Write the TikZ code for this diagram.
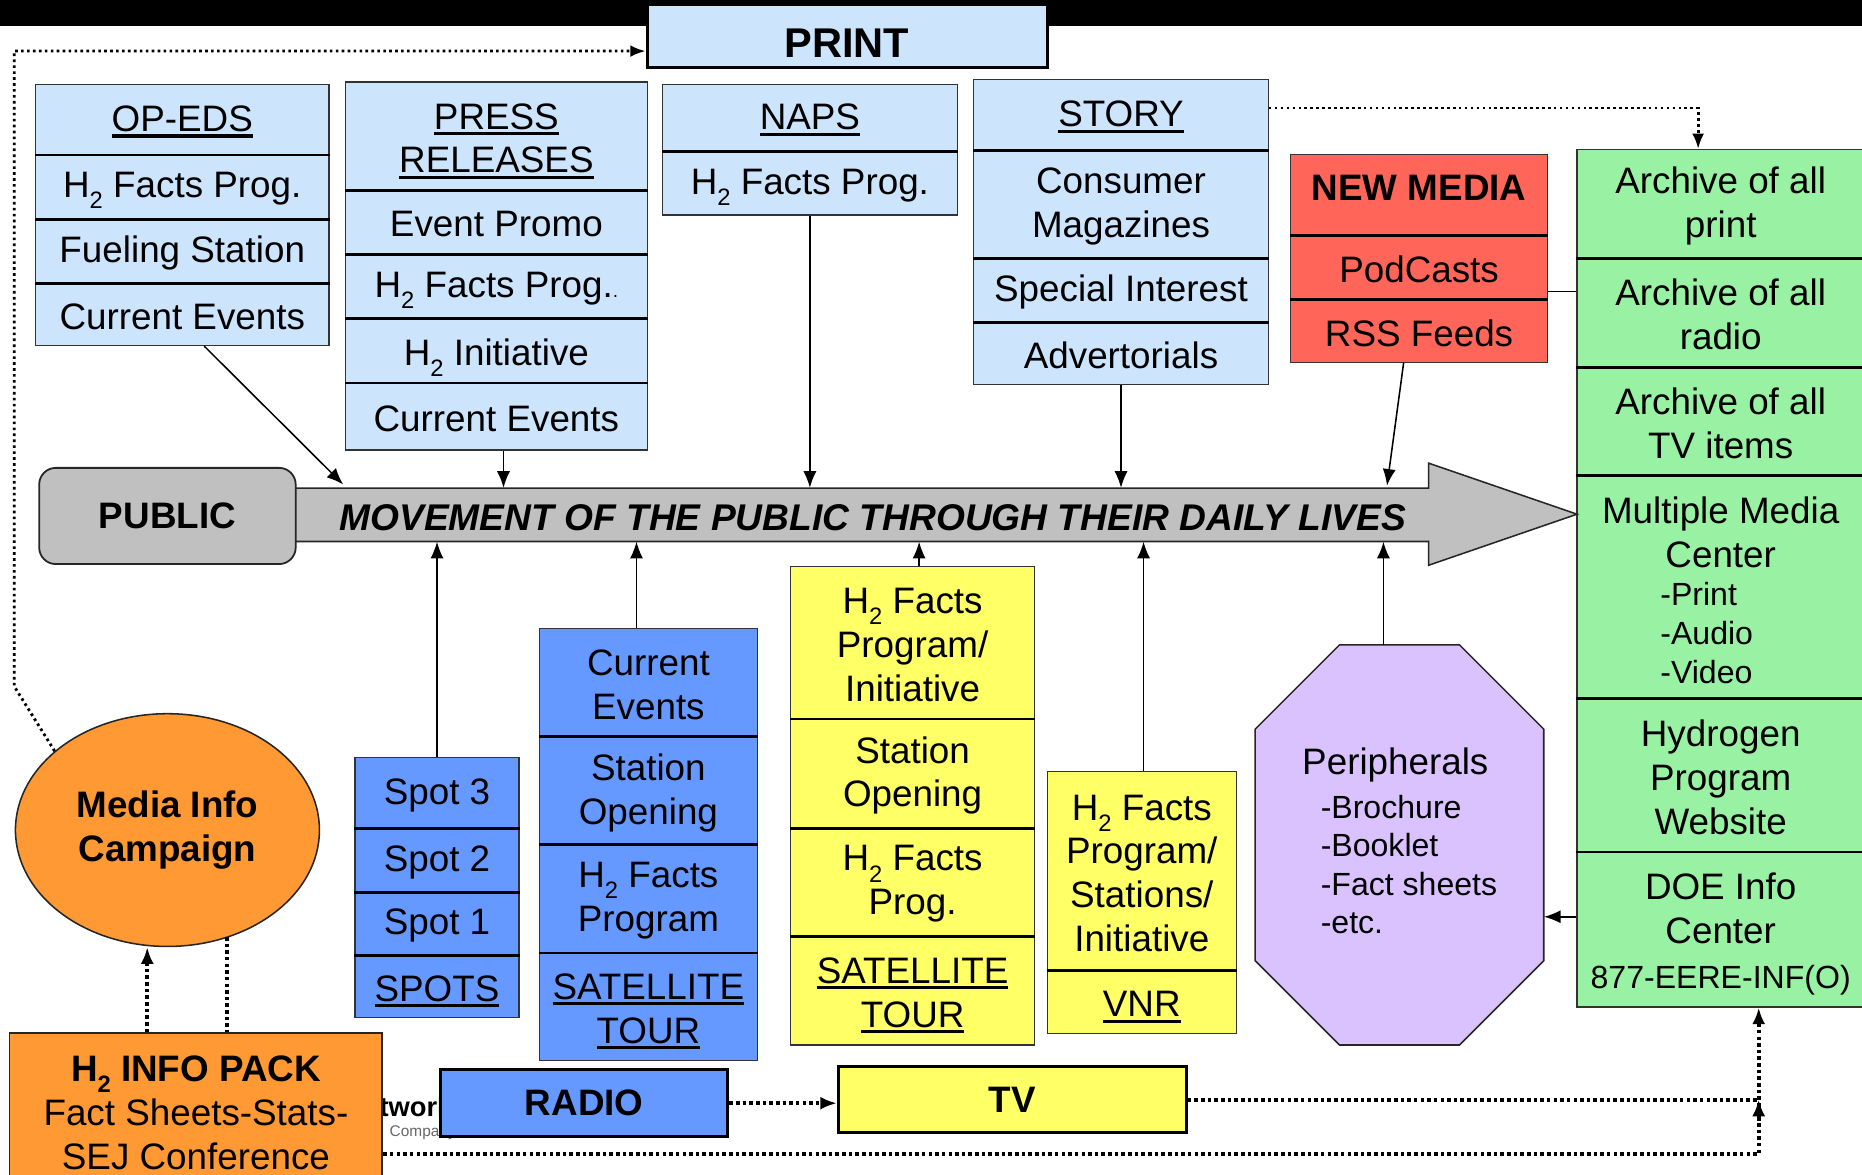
\documentclass[tikz,border=0pt]{standalone}
\usepackage{fontspec}
\setmainfont{Liberation Sans}
\usepackage{graphicx}
\usetikzlibrary{arrows.meta,shapes.geometric}

\definecolor{lblue}{RGB}{204,228,252}
\definecolor{nmred}{RGB}{255,102,89}
\definecolor{lgreen}{RGB}{153,242,163}
\definecolor{mblue}{RGB}{102,153,255}
\definecolor{lyellow}{RGB}{255,255,102}
\definecolor{orng}{RGB}{255,153,51}
\definecolor{lav}{RGB}{217,194,255}
\definecolor{pgray}{RGB}{192,192,192}

\newcommand\fsN{\fontsize{31}{37}\selectfont}
\newcommand\fsS{\fontsize{27}{32.5}\selectfont}
\newcommand\Htwo{H\raisebox{-0.3em}[0pt][0pt]{\fontsize{20}{20}\selectfont 2}}
\newcommand\undl[1]{\setbox0\hbox{#1}\rlap{\raisebox{0pt}[0pt][0pt]{\rule[-5pt]{\wd0}{2.6pt}}}\box0}
\newcommand\undlD[1]{\setbox0\hbox{#1}\rlap{\rule[-5pt]{\wd0}{2.6pt}}\box0}
\newcommand\mkcell[7]{\node[cellbox,fill=#6,minimum width={#4-#2},minimum height={#5-#3}] (#1) at ({(#2+#4)/2},{(#3+#5)/2}) {};
  \node[txt] (#1t) at ([yshift=-2pt]#1.center) {#7};}
\newcommand\sepbelow[1]{\draw[sepline] (#1.south west) -- (#1.south east);}

\begin{document}
\begin{tikzpicture}[x=1pt,y=-1pt,
  cellbox/.style={draw=black!80, line width=1pt, inner sep=0pt},
  bigbox/.style={draw=black, line width=2.5pt, inner sep=0pt, align=center, font=\fsN\bfseries},
  sepline/.style={line width=2.4pt, black},
  txt/.style={inner sep=0pt, align=center, font=\fsN},
  arr/.style={line width=1.3pt, -{Latex[length=14pt,width=11pt]}},
  dotline/.style={line width=3.4pt, dash pattern=on 3pt off 2.6pt},
  dotarr/.style={dotline, -{Latex[length=14pt,width=11pt]}},
  dotthin/.style={line width=2.4pt, dash pattern=on 2.2pt off 2.8pt},
  dotthinarr/.style={dotthin, -{Latex[length=13pt,width=10pt]}},
]
\fill[white] (0,0) rectangle (1568,989);
\useasboundingbox (0,0) rectangle (1568,989);
\fill[black] (0,0) rectangle (1568,22);

% watermark fragments
\node[anchor=base west, inner sep=0pt, font=\bfseries\fontsize{23}{23}\selectfont] (wm1) at (290,940) {Network};
\node[anchor=base west, inner sep=0pt, text=black!60, font=\fontsize{13}{13}\selectfont] (wm2) at (328,957) {Company};

% PRINT
\node[bigbox, fill=lblue, minimum width=337, minimum height=53] (print) at (713.5,30.5) {};
\node[txt, font=\fontsize{35}{40}\selectfont\bfseries] (printt) at (713,36) {PRINT};

% OP-EDS
\mkcell{opA}{30}{71}{277}{130}{lblue}{\undlD{OP-EDS}}
\mkcell{opB}{30}{130}{277}{184}{lblue}{\Htwo\ Facts Prog.}
\mkcell{opC}{30}{184}{277}{238}{lblue}{Fueling Station}
\mkcell{opD}{30}{238}{277}{291}{lblue}{Current Events}
\sepbelow{opA}\sepbelow{opB}\sepbelow{opC}

% PRESS RELEASES
\mkcell{prA}{291}{69}{545}{160}{lblue}{\undl{PRESS}\\\undl{RELEASES}}
\mkcell{prB}{291}{160}{545}{214}{lblue}{Event Promo}
\mkcell{prC}{291}{214}{545}{268}{lblue}{\Htwo\ Facts Prog.{\fontsize{16}{16}\selectfont.}}
\mkcell{prD}{291}{268}{545}{322}{lblue}{\Htwo\ Initiative}
\mkcell{prE}{291}{322}{545}{379}{lblue}{Current Events}
\sepbelow{prA}\sepbelow{prB}\sepbelow{prC}\sepbelow{prD}

% NAPS
\mkcell{naA}{558}{71}{806}{127}{lblue}{\undlD{NAPS}}
\mkcell{naB}{558}{127}{806}{181}{lblue}{\Htwo\ Facts Prog.}
\sepbelow{naA}

% STORY
\mkcell{stA}{820}{67}{1068}{126}{lblue}{\undlD{STORY}}
\mkcell{stB}{820}{126}{1068}{217}{lblue}{Consumer\\Magazines}
\mkcell{stC}{820}{217}{1068}{271}{lblue}{Special Interest}
\mkcell{stD}{820}{271}{1068}{324}{lblue}{Advertorials}
\sepbelow{stA}\sepbelow{stB}\sepbelow{stC}

% NEW MEDIA
\mkcell{nmA}{1087}{130}{1303}{198}{nmred}{}
\node[txt, font=\fsN\bfseries] (nmAx) at (1195,158) {NEW MEDIA};
\mkcell{nmB}{1087}{198}{1303}{252}{nmred}{PodCasts}
\mkcell{nmC}{1087}{252}{1303}{305}{nmred}{RSS Feeds}
\sepbelow{nmA}\sepbelow{nmB}

% Green archive column
\mkcell{gA}{1328}{126}{1570}{217}{lgreen}{Archive of all\\print}
\mkcell{gB}{1328}{217}{1570}{309}{lgreen}{Archive of all\\radio}
\mkcell{gC}{1328}{309}{1570}{400}{lgreen}{Archive of all\\TV items}
\mkcell{gD}{1328}{400}{1570}{588}{lgreen}{}
\mkcell{gE}{1328}{588}{1570}{717}{lgreen}{Hydrogen\\Program\\Website}
\mkcell{gF}{1328}{717}{1570}{848}{lgreen}{}
\sepbelow{gA}\sepbelow{gB}\sepbelow{gC}\sepbelow{gD}\sepbelow{gE}
\node[txt] (gDx) at (1449,448) {Multiple Media\\Center};
\node[txt, font=\fsS, align=left, anchor=west] (gDl) at (1398,533) {-Print\\-Audio\\-Video};
\node[txt] (gFx) at (1449,765) {DOE Info\\Center};
\node[txt, font=\fsS] (gFn) at (1449,825) {877-EERE-INF(O)};

% Big arrow
\node[inner sep=0pt, minimum width=954, minimum height=45] (body) at (726,433.5) {};
\draw[fill=pgray, draw=black!85, line width=1.3pt] (240,411) -- (1203,411) -- (1203,390) -- (1328,433) -- (1203,476) -- (1203,456) -- (240,456) -- cycle;
\node[txt, font=\fontsize{31.3}{37}\selectfont\bfseries\itshape] (mvt) at (735,436) {MOVEMENT OF THE PUBLIC THROUGH THEIR DAILY LIVES};
\node[draw=black!85, line width=1.5pt, fill=pgray, rounded corners=14pt, minimum width=216, minimum height=81, inner sep=0pt, font=\fsN\bfseries] (public) at (141,434.5) {PUBLIC};

% Media Info Campaign
\node[ellipse, draw=black!85, line width=1.3pt, fill=orng, minimum width=256, minimum height=196, inner sep=0pt, align=center, font=\fsN\bfseries] (mic) at (141,699) {Media Info\\Campaign};

% Spots
\mkcell{spA}{299}{638}{437}{697}{mblue}{Spot 3}
\mkcell{spB}{299}{697}{437}{751}{mblue}{Spot 2}
\mkcell{spC}{299}{751}{437}{804}{mblue}{Spot 1}
\mkcell{spD}{299}{804}{437}{857}{mblue}{\undl{SPOTS}}
\sepbelow{spA}\sepbelow{spB}\sepbelow{spC}

% Radio stack
\mkcell{raA}{454}{529}{638}{620}{mblue}{Current\\Events}
\mkcell{raB}{454}{620}{638}{711}{mblue}{Station\\Opening}
\mkcell{raC}{454}{711}{638}{802}{mblue}{\Htwo\ Facts\\Program}
\mkcell{raD}{454}{802}{638}{893}{mblue}{\undl{SATELLITE}\\\undl{TOUR}}
\sepbelow{raA}\sepbelow{raB}\sepbelow{raC}

% TV stack
\mkcell{tvA}{666}{477}{871}{605}{lyellow}{\Htwo\ Facts\\Program/\\Initiative}
\mkcell{tvB}{666}{605}{871}{697}{lyellow}{Station\\Opening}
\mkcell{tvC}{666}{697}{871}{788}{lyellow}{\Htwo\ Facts\\Prog.}
\mkcell{tvD}{666}{788}{871}{880}{lyellow}{\undl{SATELLITE}\\\undl{TOUR}}
\sepbelow{tvA}\sepbelow{tvB}\sepbelow{tvC}

% VNR stack
\mkcell{vnA}{882}{650}{1041}{817}{lyellow}{\Htwo\ Facts\\Program/\\Stations/\\Initiative}
\mkcell{vnB}{882}{817}{1041}{870}{lyellow}{\undl{VNR}}
\sepbelow{vnA}

% Peripherals octagon
\draw[fill=lav, draw=black!85, line width=1.3pt] (1128,543) -- (1229,543) -- (1300,614) -- (1300,809) -- (1229,880) -- (1128,880) -- (1057,809) -- (1057,614) -- cycle;
\node[inner sep=0pt, minimum width=243, minimum height=337] (periph) at (1178.5,711.5) {};
\node[txt] (periphT) at (1175,644) {Peripherals};
\node[txt, font=\fsS, align=left, anchor=west] (periphL) at (1112,728) {-Brochure\\-Booklet\\-Fact sheets\\-etc.};

% Bottom boxes
\node[bigbox, fill=mblue, minimum width=242, minimum height=56] (radio) at (492,929) {RADIO};
\node[bigbox, fill=lyellow, minimum width=293, minimum height=56] (tv) at (852.5,926) {TV};
\node[draw=black!85, line width=1.5pt, fill=orng, minimum width=314, minimum height=125, inner sep=0pt] (ip) at (165,932.5) {};
\node[txt] (ipt) at (165,937) {\bfseries\Htwo\ INFO PACK\\Fact Sheets-Stats-\\SEJ Conference};

% Connectors
\coordinate (d1) at (12,578);
\coordinate (d2) at (12,43);
\draw[dotthinarr] (mic.145) -- (d1) -- (d2) -- ([yshift=-12.5pt]print.west);
\draw[dotthinarr] ([yshift=5.5pt]stA.east) -| ([xshift=-19pt]gA.north);
\draw[line width=1.2pt] ([yshift=6pt]nmC.north east) -- ([yshift=6pt]nmC.north east -| gB.west);

\coordinate (tOP) at (289,408);
\draw[arr] ([xshift=18.5pt]opD.south) -- (tOP);
\draw[arr] ([xshift=6pt]prE.south) -- ([xshift=6pt]prE.south |- body.north);
\draw[arr] (naB.south) -- (naB.south |- body.north);
\draw[arr] (stD.south) -- (stD.south |- body.north);
\coordinate (tNM) at (1168,409);
\draw[arr] ([xshift=-13pt]nmC.south) -- (tNM);

\draw[arr] (spA.north) -- (spA.north |- body.south);
\draw[arr] ([xshift=-10pt]raA.north) -- ([xshift=-10pt]raA.north |- body.south);
\draw[arr] ([xshift=5.5pt]tvA.north) -- ([xshift=5.5pt]tvA.north |- body.south);
\draw[arr] ([xshift=1.5pt]vnA.north) -- ([xshift=1.5pt]vnA.north |- body.south);
\draw[arr] ([xshift=-13.5pt]periph.north) -- ([xshift=-13.5pt]periph.north |- body.south);

\draw[arr] ([yshift=10.5pt]gF.west) -- ([yshift=10.5pt]gF.west -| periph.east);

\draw[dotarr] ([xshift=-41pt]ip.north) -- ([xshift=-41pt]ip.north |- mic.south);
\coordinate (micb) at (191,789);
\draw[dotline] (micb) -- (micb |- ip.north);

\draw[dotarr] (radio.east) -- (radio.east -| tv.west);
\coordinate (jt) at (1481,926);
\coordinate (jb) at (1481,972);
\draw[dotline] (tv.east) -- (jt);
\draw[dotarr] ([yshift=-39.5pt]ip.east) -- (jb) -- (jb |- gF.south);
\draw[dotarr] ([yshift=-18pt]jt) -- (jt);
\end{tikzpicture}
\end{document}
